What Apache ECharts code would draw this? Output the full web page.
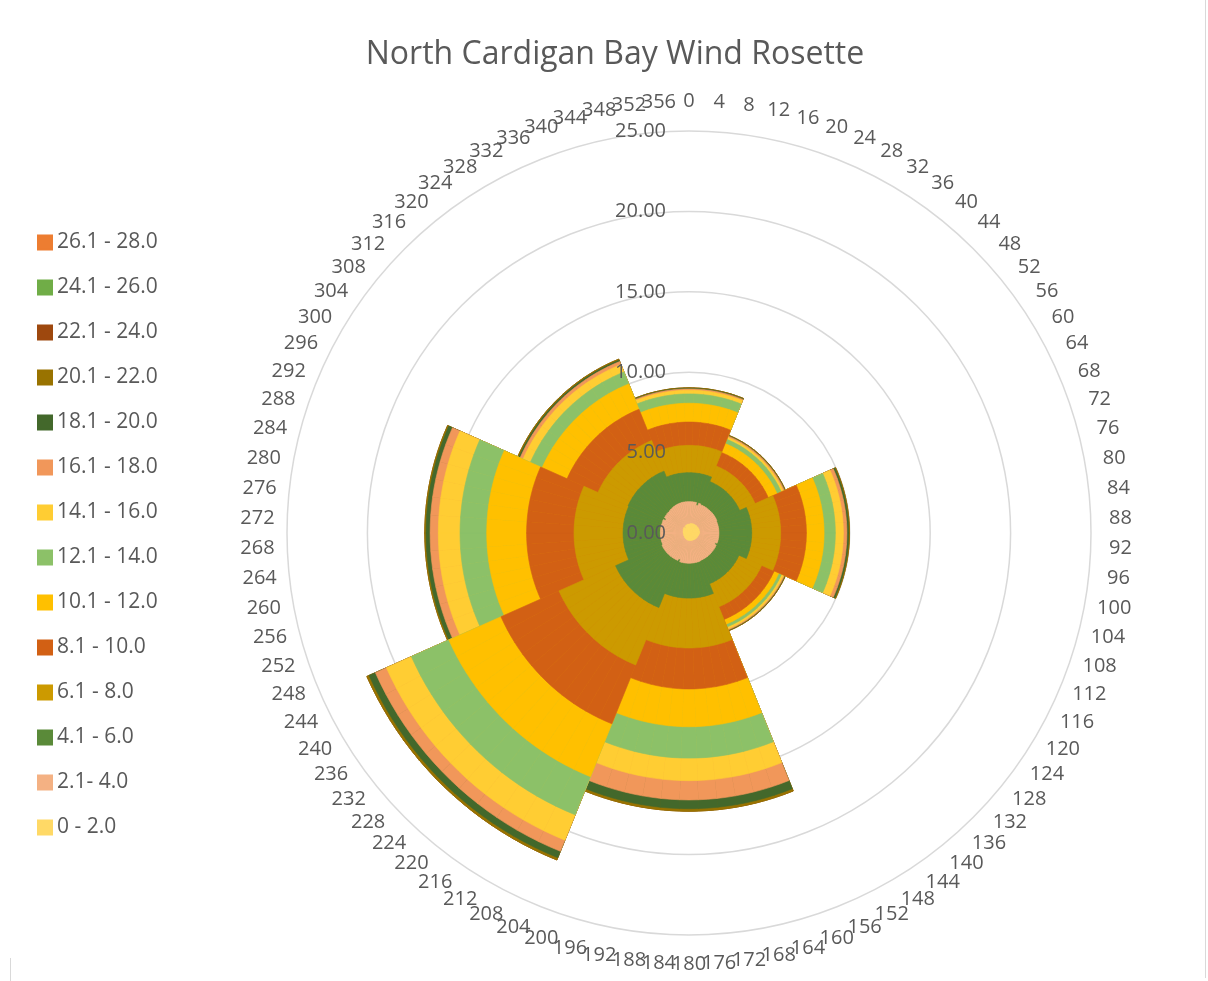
<!DOCTYPE html>
<html>
<head>
<meta charset="utf-8">
<title>North Cardigan Bay Wind Rosette</title>
<script src="https://cdn.jsdelivr.net/npm/echarts@6/dist/echarts.min.js"></script>
<style>
  html, body { margin: 0; padding: 0; background: #ffffff; }
  #chart { width: 1208px; height: 981px; }
</style>
</head>
<body>
<div id="chart"></div>
<script>
// Wind direction (degrees) of every spoke of the rosette
const directions = [0,4,8,12,16,20,24,28,32,36,40,44,48,52,56,60,64,68,72,76,80,84,88,92,96,100,104,108,112,116,120,124,128,132,136,140,144,148,152,156,160,164,168,172,176,180,184,188,192,196,200,204,208,212,216,220,224,228,232,236,240,244,248,252,256,260,264,268,272,276,280,284,288,292,296,300,304,308,312,316,320,324,328,332,336,340,344,348,352,356];

// Radial scale (percentage of time)
const radialTicks = [0, 5, 10, 15, 20, 25];

// Wind speed classes, listed as in the legend
const speedClasses = ['26.1 - 28.0','24.1 - 26.0','22.1 - 24.0','20.1 - 22.0','18.1 - 20.0','16.1 - 18.0','14.1 - 16.0','12.1 - 14.0','10.1 - 12.0','8.1 - 10.0','6.1 - 8.0','4.1 - 6.0','2.1- 4.0','0 - 2.0'];

// Cumulative frequency (%) up to the top of each speed class, one value per direction
const cum0to2 = [0.55,0.56,0.58,0.6,0.6,0.61,
  0.62,0.62,0.63,0.62,0.63,0.64,0.64,0.63,0.64,0.65,0.65,
  0.66,0.66,0.65,0.65,0.66,0.66,0.65,0.63,0.61,0.6,0.58,0.58,
  0.57,0.56,0.55,0.55,0.54,0.53,0.52,0.51,0.5,0.5,0.49,
  0.48,0.48,0.47,0.47,0.46,0.46,0.45,0.45,0.44,0.43,0.42,
  0.42,0.41,0.4,0.39,0.38,0.37,0.37,0.36,0.36,0.35,0.35,
  0.35,0.34,0.34,0.34,0.35,0.35,0.36,0.36,0.37,0.38,0.38,0.39,
  0.4,0.41,0.42,0.43,0.44,0.45,0.46,0.3,0.29,0.48,0.5,
  0.51,0.52,0.53,0.54,0.55];
const cum2to4 = [1.95,1.95,1.95,1.95,1.78,1.95,
  1.9,1.9,1.9,1.9,1.9,1.9,1.9,1.9,1.9,1.9,1.9,
  1.86,1.86,1.86,1.86,1.86,1.86,1.86,1.86,1.86,1.86,1.86,1.74,
  1.85,1.85,1.85,1.85,1.85,1.85,1.85,1.85,1.85,1.85,1.85,
  1.88,1.88,1.88,1.88,1.88,1.88,1.88,1.88,1.88,1.88,1.72,
  1.84,1.84,1.84,1.84,1.84,1.84,1.84,1.84,1.84,1.84,1.84,
  1.78,1.78,1.78,1.78,1.78,1.78,1.78,1.78,1.78,1.78,1.78,1.78,
  1.8,1.66,1.8,1.8,1.82,1.82,1.84,1.86,1.88,1.9,1.92,
  1.93,1.94,1.95,1.95,1.95];
const cum4to6 = [3.75,3.75,3.75,3.75,3.75,3.75,
  3.45,3.45,3.45,3.45,3.45,3.45,3.45,3.45,3.45,3.45,3.45,
  3.9,3.9,3.9,3.9,3.9,3.9,3.9,3.9,3.9,3.9,3.9,3.9,
  3.4,3.4,3.4,3.4,3.4,3.4,3.4,3.4,3.4,3.4,3.4,
  4.05,4.05,4.05,4.05,4.05,4.05,4.05,4.05,4.05,4.05,4.05,
  5.0,5.0,5.0,5.0,5.0,5.0,5.0,5.0,5.0,5.0,5.0,
  4.1,4.1,4.1,4.1,4.1,4.1,4.1,4.1,4.1,4.1,4.1,4.1,
  4.15,4.15,4.15,4.15,4.15,4.15,4.15,4.15,4.15,4.15,4.15,
  3.75,3.75,3.75,3.75,3.75];
const cum6to8 = [5.45,5.45,5.45,5.45,5.45,5.45,
  4.5,4.5,4.5,4.5,4.5,4.5,4.5,4.5,4.5,4.5,4.5,
  5.7,5.7,5.7,5.7,5.7,5.7,5.7,5.7,5.7,5.7,5.7,5.7,
  4.95,4.95,4.95,4.95,4.95,4.95,4.95,4.95,4.95,4.95,4.95,
  7.15,7.15,7.15,7.15,7.15,7.15,7.15,7.15,7.15,7.15,7.15,
  8.85,8.85,8.85,8.85,8.85,8.85,8.85,8.85,8.85,8.85,8.85,
  7.15,7.15,7.15,7.15,7.15,7.15,7.15,7.15,7.15,7.15,7.15,7.15,
  6.2,6.2,6.2,6.2,6.2,6.2,6.2,6.2,6.2,6.2,6.2,
  5.45,5.45,5.45,5.45,5.45];
const cum8to10 = [6.9,6.9,6.9,6.9,6.9,6.9,
  5.4,5.4,5.4,5.4,5.4,5.4,5.4,5.4,5.4,5.4,5.4,
  7.3,7.3,7.3,7.3,7.3,7.3,7.3,7.3,7.3,7.3,7.3,7.3,
  5.8,5.8,5.8,5.8,5.8,5.8,5.8,5.8,5.8,5.8,5.8,
  9.7,9.7,9.7,9.7,9.7,9.7,9.7,9.7,9.7,9.7,9.7,
  12.8,12.8,12.8,12.8,12.8,12.8,12.8,12.8,12.8,12.8,12.8,
  10.1,10.1,10.1,10.1,10.1,10.1,10.1,10.1,10.1,10.1,10.1,10.1,
  8.3,8.3,8.3,8.3,8.3,8.3,8.3,8.3,8.3,8.3,8.3,
  6.9,6.9,6.9,6.9,6.9];
const cum10to12 = [8.07,8.07,8.07,8.07,8.07,8.07,
  6.0,6.0,6.0,6.0,6.0,6.0,6.0,6.0,6.0,6.0,6.0,
  8.4,8.4,8.4,8.4,8.4,8.4,8.4,8.4,8.4,8.4,8.4,8.4,
  6.12,6.12,6.12,6.12,6.12,6.12,6.12,6.12,6.12,6.12,6.12,
  12.05,12.05,12.05,12.05,12.05,12.05,12.05,12.05,12.05,12.05,12.05,
  16.35,16.35,16.35,16.35,16.35,16.35,16.35,16.35,16.35,16.35,16.35,
  12.58,12.58,12.58,12.58,12.58,12.58,12.58,12.58,12.58,12.58,12.58,12.58,
  10.0,10.0,10.0,10.0,10.0,10.0,10.0,10.0,10.0,10.0,10.0,
  8.07,8.07,8.07,8.07,8.07];
const cum12to14 = [8.65,8.65,8.65,8.65,8.65,8.65,
  6.28,6.28,6.28,6.28,6.28,6.28,6.28,6.28,6.28,6.28,6.28,
  9.1,9.1,9.1,9.1,9.1,9.1,9.1,9.1,9.1,9.1,9.1,9.1,
  6.3,6.3,6.3,6.3,6.3,6.3,6.3,6.3,6.3,6.3,6.3,
  14.0,14.0,14.0,14.0,14.0,14.0,14.0,14.0,14.0,14.0,14.0,
  18.9,18.9,18.9,18.9,18.9,18.9,18.9,18.9,18.9,18.9,18.9,
  14.24,14.24,14.24,14.24,14.24,14.24,14.24,14.24,14.24,14.24,14.24,14.24,
  10.8,10.8,10.8,10.8,10.8,10.8,10.8,10.8,10.8,10.8,10.8,
  8.65,8.65,8.65,8.65,8.65];
const cum14to16 = [8.88,8.88,8.88,8.88,8.88,8.88,
  6.42,6.42,6.42,6.42,6.42,6.42,6.42,6.42,6.42,6.42,6.42,
  9.6,9.6,9.6,9.6,9.6,9.6,9.6,9.6,9.6,9.6,9.6,9.6,
  6.44,6.44,6.44,6.44,6.44,6.44,6.44,6.44,6.44,6.44,6.44,
  15.4,15.4,15.4,15.4,15.4,15.4,15.4,15.4,15.4,15.4,15.4,
  20.6,20.6,20.6,20.6,20.6,20.6,20.6,20.6,20.6,20.6,20.6,
  15.59,15.59,15.59,15.59,15.59,15.59,15.59,15.59,15.59,15.59,15.59,15.59,
  11.3,11.3,11.3,11.3,11.3,11.3,11.3,11.3,11.3,11.3,11.3,
  8.88,8.88,8.88,8.88,8.88];
const cum16to18 = [8.96,8.96,8.96,8.96,8.96,8.96,
  6.5,6.5,6.5,6.5,6.5,6.5,6.5,6.5,6.5,6.5,6.5,
  9.82,9.82,9.82,9.82,9.82,9.82,9.82,9.82,9.82,9.82,9.82,9.82,
  6.5,6.5,6.5,6.5,6.5,6.5,6.5,6.5,6.5,6.5,6.5,
  16.6,16.6,16.6,16.6,16.6,16.6,16.6,16.6,16.6,16.6,16.6,
  21.35,21.35,21.35,21.35,21.35,21.35,21.35,21.35,21.35,21.35,21.35,
  16.1,16.1,16.1,16.1,16.1,16.1,16.1,16.1,16.1,16.1,16.1,16.1,
  11.5,11.5,11.5,11.5,11.5,11.5,11.5,11.5,11.5,11.5,11.5,
  8.96,8.96,8.96,8.96,8.96];
const cum18to20 = [9.0,9.0,9.0,9.0,9.0,9.0,
  6.53,6.53,6.53,6.53,6.53,6.53,6.53,6.53,6.53,6.53,6.53,
  9.93,9.93,9.93,9.93,9.93,9.93,9.93,9.93,9.93,9.93,9.93,9.93,
  6.53,6.53,6.53,6.53,6.53,6.53,6.53,6.53,6.53,6.53,6.53,
  17.15,17.15,17.15,17.15,17.15,17.15,17.15,17.15,17.15,17.15,17.15,
  21.78,21.78,21.78,21.78,21.78,21.78,21.78,21.78,21.78,21.78,21.78,
  16.35,16.35,16.35,16.35,16.35,16.35,16.35,16.35,16.35,16.35,16.35,16.35,
  11.6,11.6,11.6,11.6,11.6,11.6,11.6,11.6,11.6,11.6,11.6,
  9.0,9.0,9.0,9.0,9.0];
const cum20to22 = [9.03,9.03,9.03,9.03,9.03,9.03,
  6.56,6.56,6.56,6.56,6.56,6.56,6.56,6.56,6.56,6.56,6.56,
  9.98,9.98,9.98,9.98,9.98,9.98,9.98,9.98,9.98,9.98,9.98,9.98,
  6.56,6.56,6.56,6.56,6.56,6.56,6.56,6.56,6.56,6.56,6.56,
  17.3,17.3,17.3,17.3,17.3,17.3,17.3,17.3,17.3,17.3,17.3,
  21.93,21.93,21.93,21.93,21.93,21.93,21.93,21.93,21.93,21.93,21.93,
  16.43,16.43,16.43,16.43,16.43,16.43,16.43,16.43,16.43,16.43,16.43,16.43,
  11.66,11.66,11.66,11.66,11.66,11.66,11.66,11.66,11.66,11.66,11.66,
  9.03,9.03,9.03,9.03,9.03];
// No observations above 22 knots: the upper classes close on the same totals
const cum22to24 = cum20to22.slice();
const cum24to26 = cum20to22.slice();
const cum26to28 = cum20to22.slice();

// Same order as speedClasses (outermost class first)
const cumulativeByClass = [cum26to28, cum24to26, cum22to24, cum20to22, cum18to20, cum16to18,
  cum14to16, cum12to14, cum10to12, cum8to10, cum6to8, cum4to6, cum2to4, cum0to2];

const classColors = ['#ED7D31','#70AD47','#9E480E','#997300','#43682B','#F1975A',
  '#FFCD33','#8CC168','#FFC000','#D26014','#CC9A00','#5A8A39','#F4B183','#FFD966'];

const FONT = "'Open Sans', 'Noto Sans', sans-serif";
const TEXT = '#595959';
const CENTER = [689, 533];
const RADIUS = 402;
const STEP = 360 / directions.length;
const LABEL_RING = 26.85;  // direction labels sit just outside the 25 % circle

// One wedge per direction and class, running from the centre to the cumulative total;
// wedges overlap, the largest totals underneath
const series = speedClasses.map(function (name, k) {
  return {
    name: name,
    type: 'bar',
    coordinateSystem: 'polar',
    polarIndex: 0,
    data: cumulativeByClass[k],
    barGap: '-100%',
    barCategoryGap: '0%',
    z: 2 + k,
    color: classColors[k],
    itemStyle: { color: classColors[k], borderColor: classColors[k], borderWidth: 0.6 },
    emphasis: { disabled: true },
    silent: true
  };
});

// Direction labels, centred on a ring around the rosette
series.push({
  name: 'directions',
  type: 'scatter',
  coordinateSystem: 'polar',
  polarIndex: 1,
  clip: false,
  silent: true,
  z: 30,
  symbolSize: 1,
  itemStyle: { color: 'rgba(0,0,0,0)' },
  data: directions.map(function (d) { return [LABEL_RING, d]; }),
  label: {
    show: true,
    position: 'inside',
    opacity: 1,
    color: TEXT,
    fontFamily: FONT,
    fontSize: 20,
    formatter: function (p) { return String(p.value[1]); }
  },
  emphasis: { disabled: true }
});

const chart = echarts.init(document.getElementById('chart'), null, { renderer: 'canvas' });
chart.setOption({
  backgroundColor: '#ffffff',
  animation: false,
  title: {
    text: 'North Cardigan Bay Wind Rosette',
    left: 610,
    textAlign: 'center',
    top: 34,
    textStyle: { fontFamily: FONT, fontSize: 32, fontWeight: 'normal', color: TEXT }
  },
  legend: {
    data: speedClasses,
    orient: 'vertical',
    left: 37,
    top: 232,
    padding: 0,
    itemWidth: 14,
    itemHeight: 14,
    itemGap: 24,
    icon: 'rect',
    selectedMode: false,
    textStyle: { fontFamily: FONT, fontSize: 21, color: TEXT, lineHeight: 21 }
  },
  // Chart-area frame edges
  graphic: [
    { type: 'line', silent: true, shape: { x1: 1205.5, y1: 0, x2: 1205.5, y2: 978 },
      style: { stroke: '#D9D9D9', lineWidth: 1 } },
    { type: 'line', silent: true, shape: { x1: 10.5, y1: 958, x2: 10.5, y2: 981 },
      style: { stroke: '#D9D9D9', lineWidth: 1 } }
  ],
  polar: [
    { center: CENTER, radius: RADIUS },
    { center: CENTER, radius: RADIUS }
  ],
  angleAxis: [
    {
      polarIndex: 0,
      type: 'category',
      data: directions.map(String),
      startAngle: 90 + STEP / 2,
      clockwise: true,
      axisLine: { show: false },
      axisTick: { show: false },
      splitLine: { show: false },
      axisLabel: { show: false }
    },
    {
      polarIndex: 1, type: 'value', min: 0, max: 360, startAngle: 90, clockwise: true,
      axisLine: { show: false }, axisTick: { show: false }, splitLine: { show: false },
      axisLabel: { show: false }
    }
  ],
  radiusAxis: [
    {
      polarIndex: 0,
      type: 'value',
      min: radialTicks[0],
      max: radialTicks[radialTicks.length - 1],
      interval: radialTicks[1] - radialTicks[0],
      axisLine: { show: false },
      axisTick: { show: false },
      axisLabel: { show: false },
      splitLine: { show: true, lineStyle: { color: '#D9D9D9', width: 1.5 } }
    },
    {
      polarIndex: 1,
      type: 'value',
      z: 20,
      min: radialTicks[0],
      max: radialTicks[radialTicks.length - 1],
      interval: radialTicks[1] - radialTicks[0],
      axisLine: { show: false },
      axisTick: { show: false },
      splitLine: { show: false },
      axisLabel: {
        margin: 23,
        color: TEXT,
        fontFamily: FONT,
        fontSize: 20,
        formatter: function (v) { return v.toFixed(2); }
      }
    }
  ],
  series: series
});
</script>
</body>
</html>
